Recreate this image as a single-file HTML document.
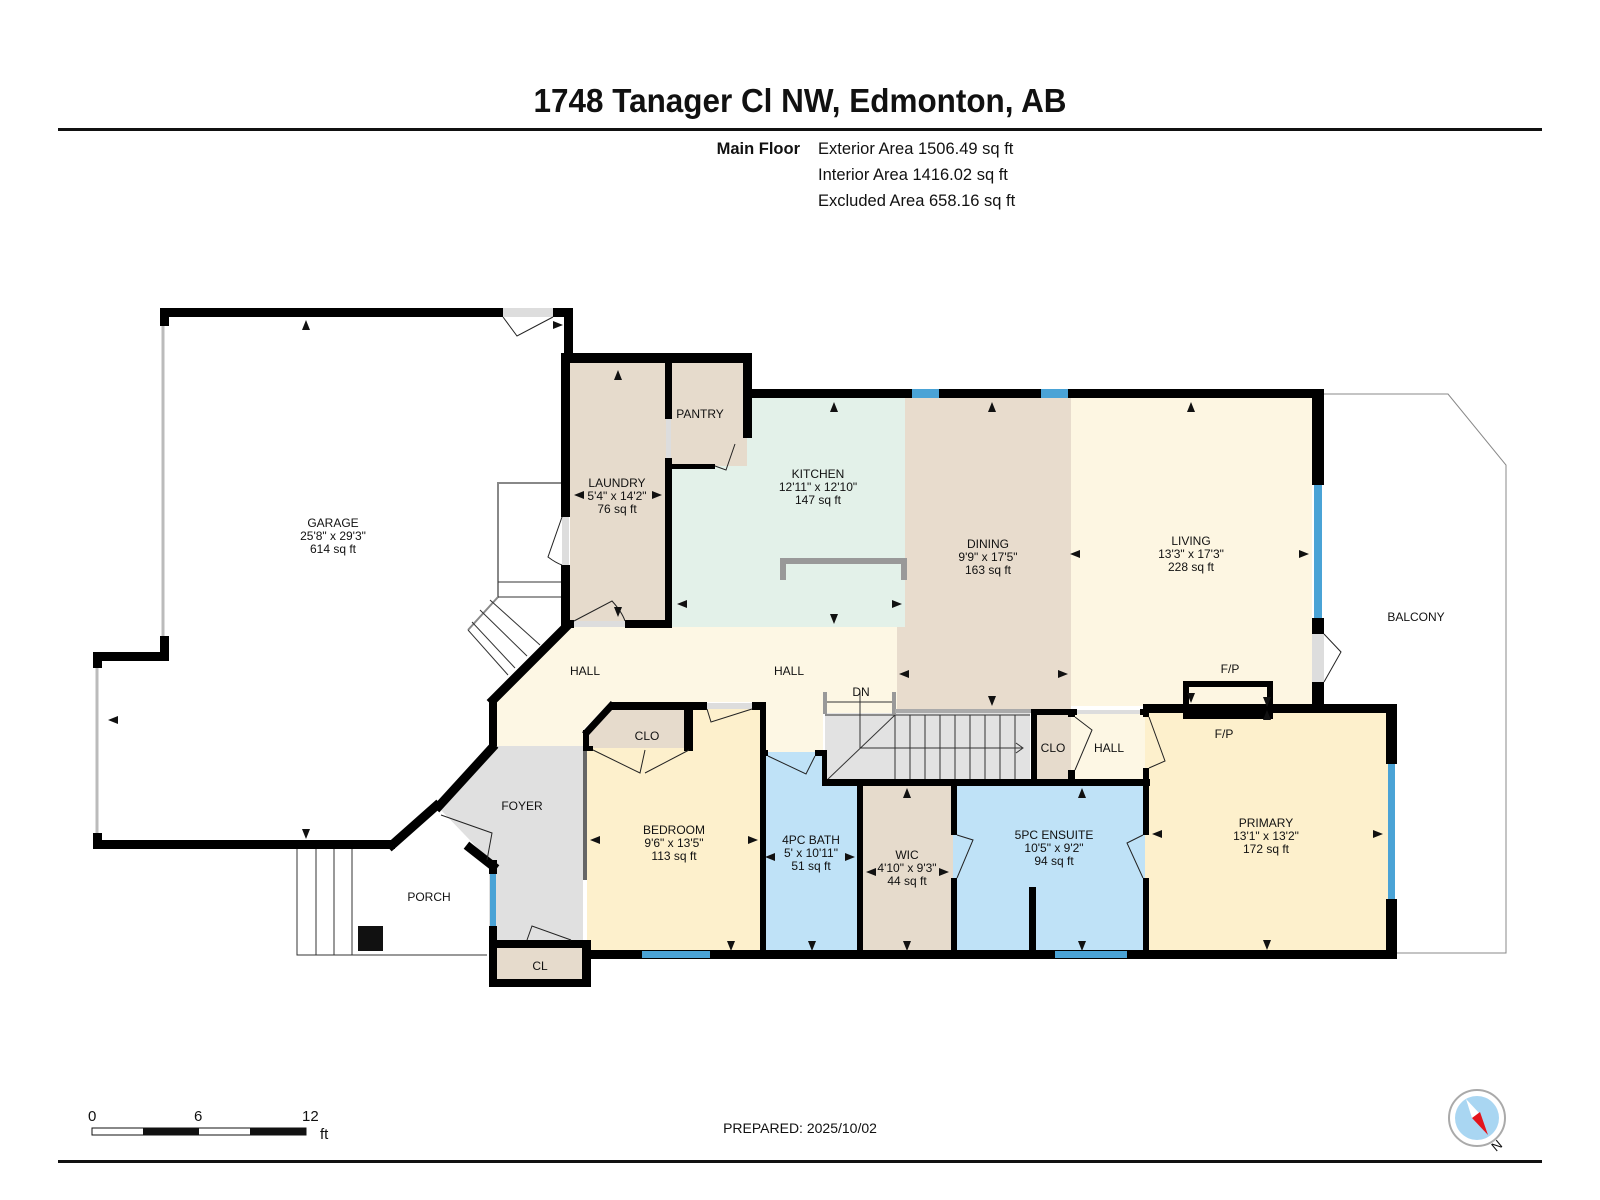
<!DOCTYPE html>
<html><head><meta charset="utf-8"><style>
html,body{margin:0;padding:0;background:#fff;}
svg{display:block;font-family:"Liberation Sans",Arial,sans-serif;}
.l{font-size:12px;fill:#111;text-anchor:middle;}
</style></head><body>
<svg width="1600" height="1200" viewBox="0 0 1600 1200" xmlns="http://www.w3.org/2000/svg">
<rect width="1600" height="1200" fill="#fff"/>
<text x="800" y="112" font-size="33" font-weight="bold" text-anchor="middle" textLength="533" lengthAdjust="spacingAndGlyphs" fill="#111">1748 Tanager Cl NW, Edmonton, AB</text>
<rect x="58" y="128" width="1484" height="3" fill="#111"/>
<text x="800" y="154" font-size="16.5" font-weight="bold" text-anchor="end" fill="#111">Main Floor</text>
<text x="818" y="154" font-size="16.5" fill="#111">Exterior Area 1506.49 sq ft</text>
<text x="818" y="180" font-size="16.5" fill="#111">Interior Area 1416.02 sq ft</text>
<text x="818" y="206" font-size="16.5" fill="#111">Excluded Area 658.16 sq ft</text>

<!-- room fills -->
<rect x="570" y="362" width="100" height="262" fill="#e6dbcc"/>
<rect x="670" y="362" width="77" height="104" fill="#e6dbcc"/>
<polygon points="670,466 747,466 747,394 905,394 905,627 670,627" fill="#e3f1e9"/>
<polygon points="905,394 1071,394 1071,709 897,709 897,627 905,627" fill="#e8dccd"/>
<rect x="1071" y="394" width="241" height="312" fill="#fdf6e2"/>
<polygon points="569,627 897,627 897,713 823,713 823,752 766,752 766,702 610,702 583,730 583,746 497,746 497,698" fill="#fdf7e4"/>
<polygon points="492,746 583,746 583,944 489,944 489,860 439,808" fill="#e0e0e0"/>
<rect x="587" y="748" width="176" height="206" fill="#fdf0cc"/>
<rect x="689" y="706" width="74" height="44" fill="#fdf0cc"/>
<polygon points="610,706 689,706 689,748 587,748 587,732" fill="#e6dbcc"/>
<rect x="763" y="752" width="95" height="202" fill="#bfe2f7"/>
<rect x="860" y="783" width="93" height="171" fill="#e6dbcc"/>
<rect x="953" y="783" width="192" height="171" fill="#bfe2f7"/>
<rect x="1145" y="709" width="245" height="245" fill="#fdf0cc"/>
<rect x="1034" y="713" width="37" height="70" fill="#e6dbcc"/>
<rect x="1071" y="713" width="74" height="70" fill="#fdf7e4"/>
<rect x="493" y="944" width="94" height="40" fill="#e6dbcc"/>
<rect x="825" y="713" width="205" height="68" fill="#e2e2e2"/>

<!-- stairs -->
<g stroke="#333" stroke-width="1" fill="none">
<line x1="825" y1="715" x2="1030" y2="715"/>
<line x1="826" y1="781" x2="895" y2="715"/>
<line x1="860" y1="692" x2="860" y2="748"/>
<line x1="860" y1="748" x2="1022" y2="748"/>
<polyline points="1016,743 1023,748 1016,753"/>
<line x1="895" y1="715" x2="895" y2="781"/><line x1="910" y1="715" x2="910" y2="781"/><line x1="925" y1="715" x2="925" y2="781"/><line x1="940" y1="715" x2="940" y2="781"/><line x1="955" y1="715" x2="955" y2="781"/><line x1="970" y1="715" x2="970" y2="781"/><line x1="985" y1="715" x2="985" y2="781"/><line x1="1000" y1="715" x2="1000" y2="781"/><line x1="1015" y1="715" x2="1015" y2="781"/>
<line x1="825" y1="702" x2="894" y2="702"/>
</g>
<rect x="823" y="692" width="4" height="22" fill="#999"/><rect x="892" y="692" width="4" height="22" fill="#999"/>
<rect x="895" y="709" width="136" height="4" fill="#aaa"/>

<!-- garage side stairs / porch / balcony thin lines -->
<g fill="none" stroke="#888" stroke-width="2">
<polyline points="561,483 498,483 498,597 468,630"/>
<polyline points="1324,394 1448,394 1506,465 1506,953 1397,953" stroke-width="1"/>
<line x1="163" y1="326" x2="163" y2="636" stroke="#bbb" stroke-width="3"/>
<line x1="97" y1="668" x2="97" y2="833" stroke="#bbb" stroke-width="3"/>
</g>
<g fill="none" stroke="#333" stroke-width="1">
<line x1="498" y1="582" x2="561" y2="582"/><line x1="498" y1="597" x2="561" y2="597"/>
<line x1="480" y1="610" x2="527" y2="656"/><line x1="490" y1="600" x2="540" y2="645"/><line x1="472" y1="622" x2="515" y2="668"/>
<line x1="468" y1="630" x2="508" y2="675"/>
<polyline points="297,849 297,955 487,955"/>
<line x1="316" y1="849" x2="316" y2="955"/><line x1="334" y1="849" x2="334" y2="955"/><line x1="352" y1="849" x2="352" y2="955"/>
</g>
<rect x="358" y="926" width="25" height="25" fill="#111"/>

<!-- kitchen counter -->
<path d="M783,580 V561 H904 V580" fill="none" stroke="#999" stroke-width="6"/>

<!-- walls -->
<g fill="#000">
<rect x="161" y="308" width="342" height="9"/>
<rect x="553" y="308" width="20" height="9"/>
<rect x="564" y="308" width="9" height="50"/>
<rect x="160" y="308" width="9" height="18"/><rect x="160" y="636" width="9" height="25"/>
<rect x="93" y="652" width="76" height="9"/>
<rect x="93" y="652" width="9" height="16"/><rect x="93" y="833" width="9" height="16"/>
<rect x="93" y="840" width="302" height="9"/>
<rect x="561" y="353" width="191" height="10"/>
<rect x="743" y="353" width="9" height="85"/>
<rect x="743" y="389" width="581" height="9"/>
<rect x="561" y="353" width="9" height="164"/><rect x="561" y="565" width="9" height="63"/>
<rect x="665" y="363" width="7" height="56"/><rect x="665" y="458" width="7" height="170"/>
<rect x="665" y="464" width="50" height="5"/>
<rect x="561" y="620" width="13" height="8"/><rect x="625" y="620" width="47" height="8"/>
<rect x="1312" y="389" width="12" height="96"/><rect x="1312" y="618" width="12" height="16"/><rect x="1312" y="682" width="12" height="30"/>
<rect x="1145" y="704" width="252" height="9"/>
<rect x="1386" y="704" width="11" height="60"/><rect x="1386" y="899" width="11" height="60"/>
<rect x="584" y="950" width="813" height="9"/>
<rect x="489" y="698" width="8" height="48"/>
<rect x="489" y="860" width="8" height="14"/><rect x="489" y="926" width="8" height="61"/>
<rect x="489" y="940" width="102" height="8"/><rect x="489" y="979" width="102" height="8"/>
<rect x="582" y="940" width="9" height="47"/>
<rect x="583" y="730" width="6" height="20"/>
<rect x="583" y="746" width="4" height="134" fill="#666"/>
<rect x="610" y="702" width="97" height="8"/><rect x="752" y="702" width="14" height="8"/>
<rect x="760" y="702" width="6" height="257"/>
<rect x="684" y="702" width="9" height="48"/>
<rect x="583" y="746" width="10" height="5"/><rect x="684" y="746" width="9" height="5"/>
<rect x="760" y="750" width="8" height="6"/><rect x="815" y="750" width="10" height="6"/>
<rect x="822" y="750" width="5" height="35"/>
<rect x="822" y="779" width="328" height="7"/>
<rect x="857" y="779" width="6" height="180"/>
<rect x="951" y="779" width="6" height="56"/><rect x="951" y="878" width="6" height="81"/>
<rect x="1143" y="704" width="6" height="13"/><rect x="1143" y="768" width="6" height="67"/><rect x="1143" y="878" width="6" height="81"/>
<rect x="1031" y="709" width="6" height="77"/>
<rect x="1031" y="709" width="46" height="6"/><rect x="1140" y="709" width="9" height="6"/>
<rect x="1068" y="709" width="7" height="8"/><rect x="1068" y="770" width="7" height="13"/>
<rect x="1029" y="887" width="7" height="70"/>
</g>
<!-- diagonal walls -->
<g stroke="#000" stroke-width="9" fill="none" stroke-linecap="square">
<polyline points="392,845 436,806"/>
<polyline points="439,806 492,748"/>
<polyline points="493,700 567,626"/>
<polyline points="470,848 493,866"/>
<polyline points="587,732 611,706" stroke-width="7"/>
</g>
<!-- fireplace -->
<rect x="1186" y="684" width="84" height="32" fill="none" stroke="#000" stroke-width="6"/>
<!-- windows -->
<g fill="#4aa3d6">
<rect x="912" y="389" width="27" height="9"/><rect x="1041" y="389" width="27" height="9"/>
<rect x="1314" y="485" width="8" height="133"/>
<rect x="1388" y="764" width="7" height="135"/>
<rect x="642" y="951" width="68" height="7"/><rect x="1055" y="951" width="72" height="7"/>
<rect x="490" y="874" width="6" height="52"/>
</g>
<!-- door gaps light -->
<g fill="#ddd">
<rect x="503" y="308" width="50" height="9"/>
<rect x="562" y="517" width="7" height="48"/>
<rect x="666" y="419" width="5" height="39"/>
<rect x="574" y="621" width="51" height="6"/>
<rect x="707" y="703" width="45" height="6"/>
<rect x="1312" y="634" width="12" height="48"/>
<rect x="1077" y="710" width="63" height="4"/>
</g>
<!-- door swings -->
<g fill="none" stroke="#222" stroke-width="1">
<path d="M503,317 L517,336 L553,317"/>
<path d="M562,517 L548,557 Q556,563 562,565"/>
<path d="M715,466 L726,470 L735,444"/>
<path d="M574,621 L612,601 Q622,612 625,621"/>
<path d="M707,709 L711,722 L752,709"/>
<path d="M593,750 L640,773 L645,750 M689,750 L645,773"/>
<path d="M768,756 L806,774 L815,756"/>
<path d="M1324,634 L1341,652 L1324,682"/>
<path d="M1075,770 L1092,730 L1075,717"/>
<path d="M1149,717 L1165,761 L1149,768"/>
<path d="M957,835 L973,840 L957,878"/>
<path d="M1143,835 L1127,843 L1143,878"/>
<path d="M441,815 L492,833 L487,860"/>
<path d="M527,940 L532,926 L571,940"/>
</g>
<!-- dimension arrows -->
<g fill="#111">
<polygon points="306,320 302,330 310,330"/>
<polygon points="306,839 302,829 310,829"/>
<polygon points="108,720 118,716 118,724"/>
<polygon points="563,325 553,321 553,329"/>
<polygon points="618,370 614,380 622,380"/>
<polygon points="618,617 614,607 622,607"/>
<polygon points="574,495 584,491 584,499"/><polygon points="662,495 652,491 652,499"/>
<polygon points="834,402 830,412 838,412"/><polygon points="834,624 830,614 838,614"/>
<polygon points="677,604 687,600 687,608"/><polygon points="902,604 892,600 892,608"/>
<polygon points="992,402 988,412 996,412"/><polygon points="992,706 988,696 996,696"/>
<polygon points="899,674 909,670 909,678"/><polygon points="1068,674 1058,670 1058,678"/>
<polygon points="1070,554 1080,550 1080,558"/><polygon points="1309,554 1299,550 1299,558"/>
<polygon points="1191,402 1187,412 1195,412"/>
<polygon points="1191,703 1187,693 1195,693"/>
<polygon points="1267,710 1263,720 1271,720"/>
<polygon points="590,840 600,836 600,844"/><polygon points="758,840 748,836 748,844"/>
<polygon points="731,951 727,941 735,941"/>
<polygon points="765,857 775,853 775,861"/><polygon points="855,857 845,853 845,861"/>
<polygon points="812,951 808,941 816,941"/>
<polygon points="907,788 903,798 911,798"/><polygon points="907,951 903,941 911,941"/>
<polygon points="866,872 876,868 876,876"/><polygon points="949,872 939,868 939,876"/>
<polygon points="1082,788 1078,798 1086,798"/><polygon points="1082,951 1078,941 1086,941"/>
<polygon points="1152,834 1162,830 1162,838"/><polygon points="1383,834 1373,830 1373,838"/>
<polygon points="1267,707 1263,697 1271,697"/><polygon points="1267,950 1263,940 1271,940"/>
</g>

<!-- labels -->
<g class="l">
<text x="333" y="527">GARAGE</text><text x="333" y="540">25'8" x 29'3"</text><text x="333" y="553">614 sq ft</text>
<text x="617" y="487">LAUNDRY</text><text x="617" y="500">5'4" x 14'2"</text><text x="617" y="513">76 sq ft</text>
<text x="700" y="418">PANTRY</text>
<text x="818" y="478">KITCHEN</text><text x="818" y="491">12'11" x 12'10"</text><text x="818" y="504">147 sq ft</text>
<text x="988" y="548">DINING</text><text x="988" y="561">9'9" x 17'5"</text><text x="988" y="574">163 sq ft</text>
<text x="1191" y="545">LIVING</text><text x="1191" y="558">13'3" x 17'3"</text><text x="1191" y="571">228 sq ft</text>
<text x="1416" y="621">BALCONY</text>
<text x="1230" y="673">F/P</text><text x="1224" y="738">F/P</text>
<text x="585" y="675">HALL</text><text x="789" y="675">HALL</text>
<text x="861" y="696">DN</text>
<text x="647" y="740">CLO</text>
<text x="1053" y="752">CLO</text><text x="1109" y="752">HALL</text>
<text x="522" y="810">FOYER</text>
<text x="674" y="834">BEDROOM</text><text x="674" y="847">9'6" x 13'5"</text><text x="674" y="860">113 sq ft</text>
<text x="811" y="844">4PC BATH</text><text x="811" y="857">5' x 10'11"</text><text x="811" y="870">51 sq ft</text>
<text x="907" y="859">WIC</text><text x="907" y="872">4'10" x 9'3"</text><text x="907" y="885">44 sq ft</text>
<text x="1054" y="839">5PC ENSUITE</text><text x="1054" y="852">10'5" x 9'2"</text><text x="1054" y="865">94 sq ft</text>
<text x="1266" y="827">PRIMARY</text><text x="1266" y="840">13'1" x 13'2"</text><text x="1266" y="853">172 sq ft</text>
<text x="429" y="901">PORCH</text>
<text x="540" y="970">CL</text>
</g>

<!-- scale bar -->
<rect x="92" y="1128" width="214" height="7" fill="#fff" stroke="#111" stroke-width="1"/>
<rect x="143" y="1128" width="56" height="7" fill="#111"/>
<rect x="250" y="1128" width="56" height="7" fill="#111"/>
<g font-size="15" fill="#111">
<text x="88" y="1121">0</text><text x="194" y="1121">6</text><text x="302" y="1121">12</text><text x="320" y="1139">ft</text>
</g>
<text x="800" y="1133" font-size="14" text-anchor="middle" fill="#111">PREPARED: 2025/10/02</text>
<rect x="58" y="1160" width="1484" height="3" fill="#111"/>
<!-- compass -->
<circle cx="1477" cy="1118" r="28" fill="#fff" stroke="#aaa" stroke-width="2"/>
<circle cx="1477" cy="1118" r="22" fill="#a9d6f2"/>
<polygon points="1466,1099 1472,1118 1480,1114" fill="#fff"/>
<polygon points="1472,1118 1488,1135 1480,1112" fill="#e3141b"/>
<text x="1496" y="1152" font-size="13" fill="#111" transform="rotate(-40 1496 1152)">N</text>
</svg>
</body></html>
